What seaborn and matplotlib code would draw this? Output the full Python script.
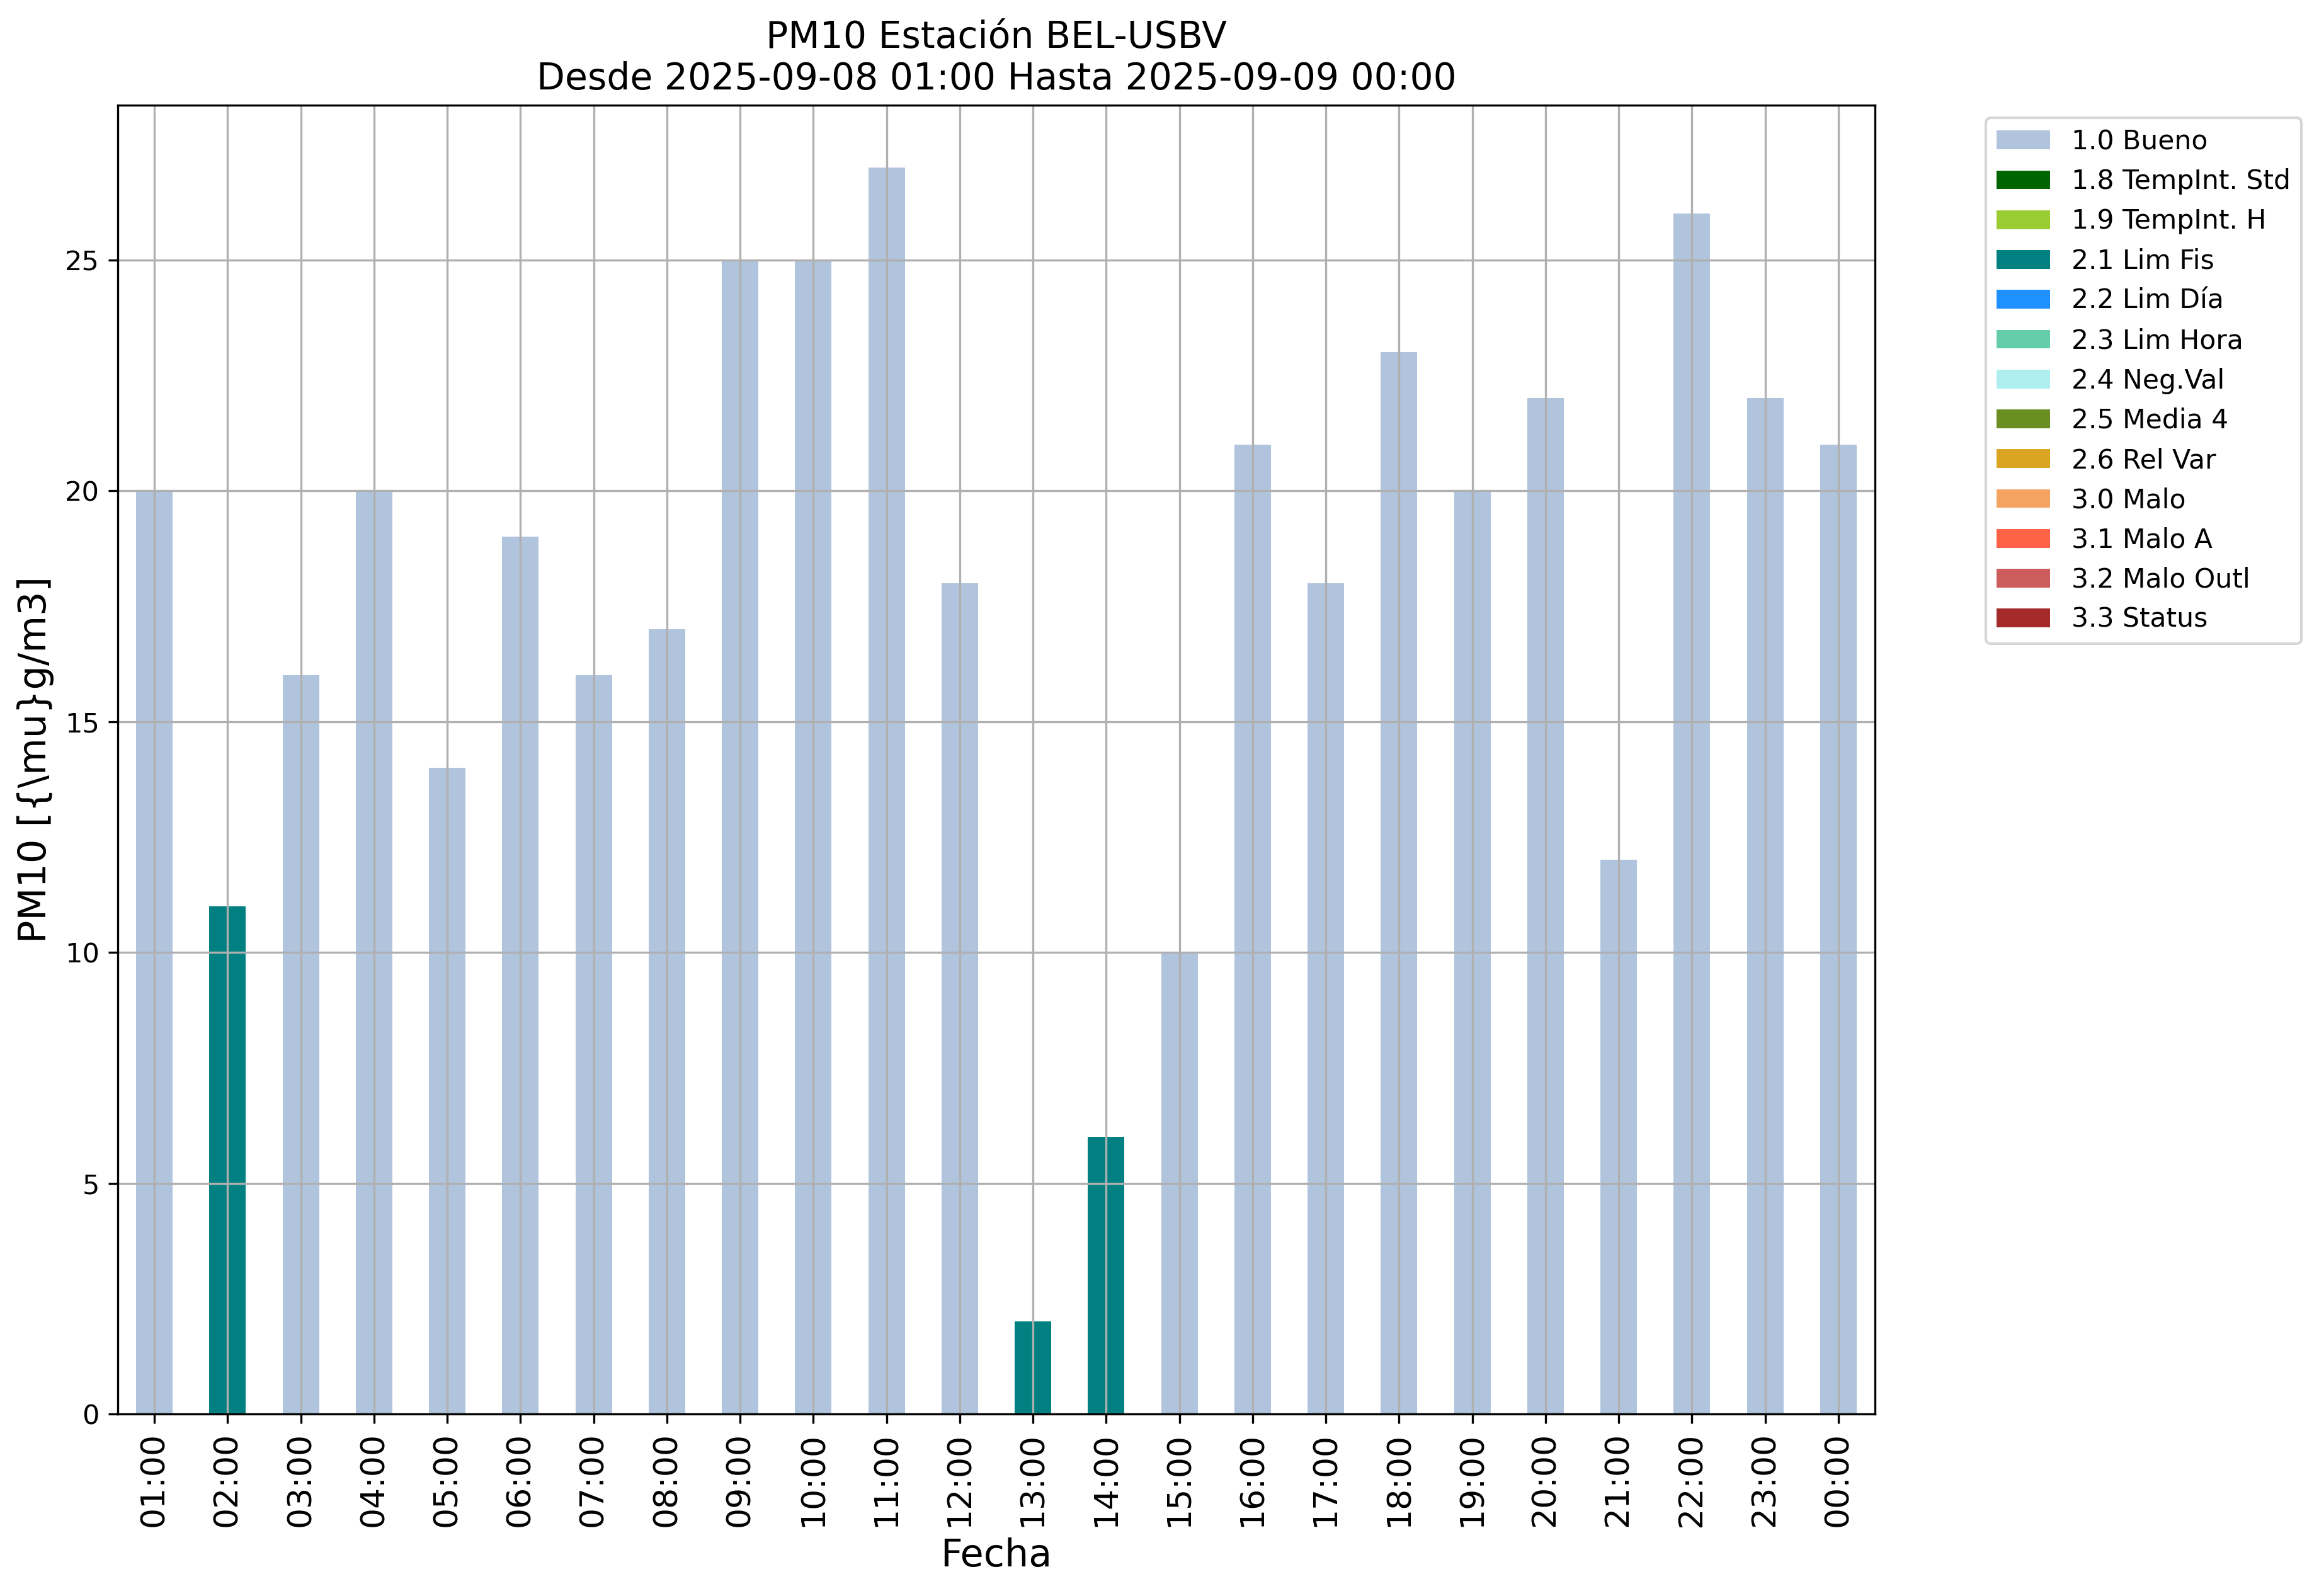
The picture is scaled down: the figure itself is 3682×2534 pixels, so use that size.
import matplotlib
matplotlib.use("Agg")
import matplotlib.pyplot as plt
import seaborn as sns
import pandas as pd
from matplotlib.patches import Patch


# datos horarios PM10
horas = ["01:00", "02:00", "03:00", "04:00", "05:00", "06:00", "07:00", "08:00",
         "09:00", "10:00", "11:00", "12:00", "13:00", "14:00", "15:00", "16:00",
         "17:00", "18:00", "19:00", "20:00", "21:00", "22:00", "23:00", "00:00"]
valores = [20, 11, 16, 20, 14, 19, 16, 17, 25, 25, 27, 18,
           2, 6, 10, 21, 18, 23, 20, 22, 12, 26, 22, 21]
flags = ["1.0 Bueno", "2.1 Lim Fis", "1.0 Bueno", "1.0 Bueno", "1.0 Bueno", "1.0 Bueno",
         "1.0 Bueno", "1.0 Bueno", "1.0 Bueno", "1.0 Bueno", "1.0 Bueno", "1.0 Bueno",
         "2.1 Lim Fis", "2.1 Lim Fis", "1.0 Bueno", "1.0 Bueno", "1.0 Bueno", "1.0 Bueno",
         "1.0 Bueno", "1.0 Bueno", "1.0 Bueno", "1.0 Bueno", "1.0 Bueno", "1.0 Bueno"]

# codigos de validacion y sus colores
codigos = ["1.0 Bueno", "1.8 TempInt. Std", "1.9 TempInt. H", "2.1 Lim Fis",
           "2.2 Lim Día", "2.3 Lim Hora", "2.4 Neg.Val", "2.5 Media 4",
           "2.6 Rel Var", "3.0 Malo", "3.1 Malo A", "3.2 Malo Outl", "3.3 Status"]
colores = ["lightsteelblue", "darkgreen", "yellowgreen", "teal",
           "dodgerblue", "mediumaquamarine", "paleturquoise", "olivedrab",
           "goldenrod", "sandybrown", "tomato", "indianred", "brown"]

titulo = "PM10 Estación BEL-USBV\nDesde 2025-09-08 01:00 Hasta 2025-09-09 00:00"

df = pd.DataFrame({"Fecha": horas, "PM10": valores, "flag": flags})
paleta = dict(zip(codigos, colores))

W, H, DPI = 3682, 2534, 300
fig = plt.figure(figsize=(W / DPI, H / DPI), dpi=DPI)
ax = fig.add_axes([187 / W, 1 - 2245 / H, (2977 - 187) / W, (2245 - 167) / H])

sns.barplot(data=df, x="Fecha", y="PM10", hue="flag", order=horas,
            palette=paleta, dodge=False, width=0.5, saturation=1,
            linewidth=0, legend=False, ax=ax)

ax.grid(True)
ax.set_title(titulo, fontsize=14)
ax.set_xlabel("Fecha", fontsize=14.5)
ax.set_ylabel(r"PM10 [{\mu}g/m3]", fontsize=14.5)
ax.tick_params(axis="x", labelrotation=90, labelsize=12.5)
ax.tick_params(axis="y", labelsize=10.4)

handles = [Patch(facecolor=c, label=l) for l, c in zip(codigos, colores)]
ax.legend(handles=handles, loc="upper left", fontsize=10.2,
          bbox_to_anchor=(3153 / W, 1 - 187 / H), bbox_transform=fig.transFigure,
          borderaxespad=0)

fig.savefig("out.png", dpi=DPI)
